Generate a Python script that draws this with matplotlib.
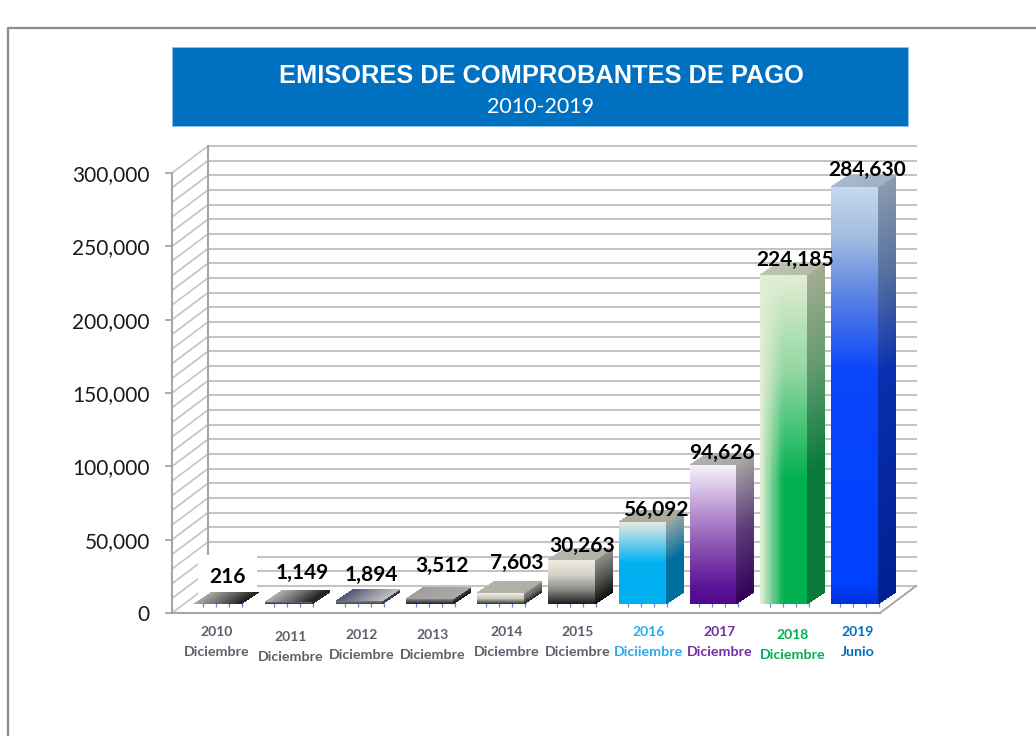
import numpy as np
import matplotlib
matplotlib.use('Agg')
import matplotlib.pyplot as plt
from matplotlib.colors import LinearSegmentedColormap, to_rgb
from matplotlib.lines import Line2D
from matplotlib.patches import Rectangle
from matplotlib.ticker import FuncFormatter, MultipleLocator
from matplotlib.transforms import Affine2D, IdentityTransform

plt.rcParams['font.family'] = ['Lato', 'DejaVu Sans']

# data
years = ['2010', '2011', '2012', '2013', '2014', '2015', '2016', '2017', '2018', '2019']
months = ['Diciembre'] * 6 + ['Diciiembre', 'Diciembre', 'Diciembre', 'Junio']
values = [216, 1149, 1894, 3512, 7603, 30263, 56092, 94626, 224185, 284630]
label_colors = ['#5f5f6b'] * 6 + ['#29abf0', '#7030a0', '#00b050', '#0070c0']

# label nudges in pixels, the original labels were placed by hand
value_dx = [10, 14, 12, 12, 16, 11, 14, 9, 11, 13]
value_dy = [27, 29, 26, 33, 30, 14, 12, 12, 15, 17]
cat_dx = [9, 12, 13, 13, 16, 16, 16, 17, 19, 13]
cat_dy = [19, 24, 22, 22, 19, 19, 19, 19, 22, 19]

# face colours, bottom -> top (front and side), left -> right (top)
front_stops = [
    ['#333333', '#555555'],
    ['#333333', '#666666'],
    ['#444444', '#777777'],
    ['#222222', '#555555', '#8a8a8a'],
    ['#333333', '#c9c7bb', '#f2f0e4'],
    ['#1c1c1c', '#8d8d88', '#d5d3c8', '#efede1'],
    [(0, '#00b0f0'), (0.5, '#00b0f0'), (1, '#e6ebe2')],
    [(0, '#4f0a8c'), (0.12, '#5a1296'), (0.4, '#8a50b0'), (0.68, '#bb97d4'), (1, '#f7f2fa')],
    [(0, '#00b050'), (0.38, '#00b050'), (0.7, '#8fd6a0'), (1, '#e2edd3')],
    [(0, '#0030d8'), (0.05, '#0040ff'), (0.56, '#0a45fa'), (0.74, '#5a82e2'), (0.88, '#a2bbdf'), (1, '#c6d9f1')],
]
side_stops = [
    ['#222222', '#333333'],
    ['#222222', '#333333'],
    ['#333333', '#444444'],
    ['#111111', '#444444'],
    ['#222222', '#666666', '#8a8a84'],
    ['#0d0d0d', '#555553', '#8f8f8a'],
    [(0, '#006f9f'), (0.5, '#006f9f'), (1, '#9fa8a6')],
    [(0, '#30005a'), (0.5, '#5c3a78'), (1, '#a3a3a3')],
    [(0, '#0a7a3a'), (0.4, '#0a7a3a'), (0.7, '#5f9a6e'), (1, '#a5ab92')],
    [(0, '#001f90'), (0.55, '#0a30b0'), (0.78, '#55709f'), (1, '#8b9bb0')],
]
top_stops = [
    ['#a8a8a8', '#6a6a6a', '#222222'],
    ['#b0b0b0', '#707070', '#222222'],
    ['#4f5672', '#8a8d9a', '#bcbcbc'],
    ['#a0a0a0', '#a8a8a8'],
    ['#b5b2a8', '#b0ada2'],
    ['#b8b5aa', '#b4b1a6'],
    ['#aeada3', '#aaa9a0'],
    ['#b0b0ae', '#a8a8a8'],
    ['#bcc5ae', '#b4bda8'],
    ['#aab8ce', '#a2b0c6'],
]

DEPTH = (36, 27)      # back wall offset in px
BAR_SHIFT = (10, 9)   # front of the bars from the axis plane
BAR_DEPTH = (18, 12)
BAR_W = 0.33
GRID = '#c4c4c4'
AXIS = '#a6a6a6'

fig = plt.figure(figsize=(10.36, 7.36), dpi=100)
W, H = 1036, 736
ax = fig.add_axes([172 / W, (H - 613) / H, 708 / W, 440 / H])
ax.patch.set_alpha(0)
ax.set_xlim(-0.5, 9.5)
ax.set_ylim(0, 300000)
ax.set_autoscale_on(False)
ax.set_xticks([])
ax.yaxis.set_major_locator(MultipleLocator(50000))
ax.yaxis.set_major_formatter(FuncFormatter(lambda v, p: f'{v:,.0f}'))
ax.tick_params(axis='y', length=5, width=1.3, color=AXIS, pad=11, labelsize=15, labelcolor='#1a1a1a')
for s in ['top', 'right']:
    ax.spines[s].set_visible(False)
for s in ['left', 'bottom']:
    ax.spines[s].set_color(AXIS)
    ax.spines[s].set_linewidth(1.5)

# outer frame and title band
fig.add_artist(Line2D([8 / W, 8 / W, 1], [0, (H - 28) / H, (H - 28) / H], color='#8c8c8c', lw=1.6))
fig.add_artist(Rectangle((172 / W, (H - 126) / H), 736 / W, 79 / H, transform=fig.transFigure,
                         facecolor='#0070c0', edgecolor='#8fc3e8', lw=0.6))
fig.text(541 / W, (H - 76) / H, 'EMISORES DE COMPROBANTES DE PAGO', color='white', ha='center', va='center',
         fontsize=18.3, fontweight='bold', family=['Liberation Sans', 'DejaVu Sans'])
fig.text(541 / W, (H - 107) / H, '2010-2019', color='white', ha='center', va='center', fontsize=15.5)

# walls
back = ax.transData + Affine2D().translate(*DEPTH)
for v in range(0, 310000, 10000):
    ax.plot([-0.5, 9.5], [v, v], color=GRID, lw=1.5, transform=back, clip_on=False, zorder=1)
    p0 = ax.transData.transform((-0.5, v))
    ax.plot([p0[0], p0[0] + DEPTH[0]], [p0[1], p0[1] + DEPTH[1]], color=GRID, lw=1.2,
            transform=IdentityTransform(), clip_on=False, zorder=1)
ax.plot([-0.5, -0.5], [0, 300000], color=AXIS, lw=1.5, transform=back, clip_on=False, zorder=1.2)
# floor edge on the right
p1 = ax.transData.transform((9.5, 0))
ax.plot([p1[0], p1[0] + DEPTH[0]], [p1[1], p1[1] + DEPTH[1]], color=AXIS, lw=1.4,
        transform=IdentityTransform(), clip_on=False, zorder=1.2)


def ramp(stops, n=420):
    cmap = LinearSegmentedColormap.from_list('f', stops, N=1024)
    return cmap(np.linspace(0, 1, n))[:, :3]


def face(p_origin, u, v, colors, zorder=3):
    # parallelogram from origin along u and v, colours is (rows, cols, 3)
    rows, cols = colors.shape[:2]
    a, b = np.meshgrid(np.linspace(0, 1, cols + 1), np.linspace(0, 1, rows + 1))
    X = p_origin[0] + a * u[0] + b * v[0]
    Y = p_origin[1] + a * u[1] + b * v[1]
    ax.pcolormesh(X, Y, colors, transform=IdentityTransform(), clip_on=False, zorder=zorder)


bar_tr = ax.transData + Affine2D().translate(*BAR_SHIFT)

for i, val in enumerate(values):
    x0, y0 = bar_tr.transform((i - BAR_W, 0))
    x1, y1 = bar_tr.transform((i + BAR_W, val))
    w, h = x1 - x0, y1 - y0

    # small blue ticks under the bars
    ax.plot([i - BAR_W + k * BAR_W * 2 / 3.6 + 0.13 for k in range(4)], [0] * 4, ls='none', marker='|', ms=4.5,
            mew=0.9, color='#5b8fd0', transform=bar_tr, clip_on=False, zorder=2)

    # front
    col = ramp(front_stops[i])[:, None, :]
    if years[i] == '2018':
        # this bar also fades out towards its left edge
        nx = 40
        col = np.repeat(col, nx, axis=1)
        pale = np.array(to_rgb('#e2edd3'))
        fade = np.clip(1 - np.linspace(0, 1, nx) / 0.5, 0, 1)[None, :, None]
        col = col * (1 - fade) + pale * fade
    face((x0, y0), (w, 0), (0, h), col)
    # side
    face((x1, y0), BAR_DEPTH, (0, h), ramp(side_stops[i])[:, None, :])
    # top
    face((x0, y1), (w, 0), BAR_DEPTH, ramp(top_stops[i], 40)[None, :, :])

    # value label
    box = dict(facecolor='white', edgecolor='none', boxstyle='square,pad=0.55') if i == 0 else None
    ax.annotate(f'{val:,}', xy=(i, val), xycoords=bar_tr, xytext=(value_dx[i], value_dy[i]),
                textcoords='offset pixels', ha='center', va='center', fontsize=15, fontweight='bold',
                color='black', bbox=box, zorder=2.5 if i == 0 else 5, annotation_clip=False)

    # category label, two lines
    ax.annotate(years[i], xy=(i, 0), xytext=(cat_dx[i], -cat_dy[i]), textcoords='offset pixels',
                ha='center', va='center', fontsize=10, fontweight='bold', color=label_colors[i],
                annotation_clip=False)
    ax.annotate(months[i], xy=(i, 0), xytext=(cat_dx[i], -cat_dy[i] - 20), textcoords='offset pixels',
                ha='center', va='center', fontsize=10.3, fontweight='bold', color=label_colors[i],
                annotation_clip=False)

fig.savefig('out.png', dpi=100)
